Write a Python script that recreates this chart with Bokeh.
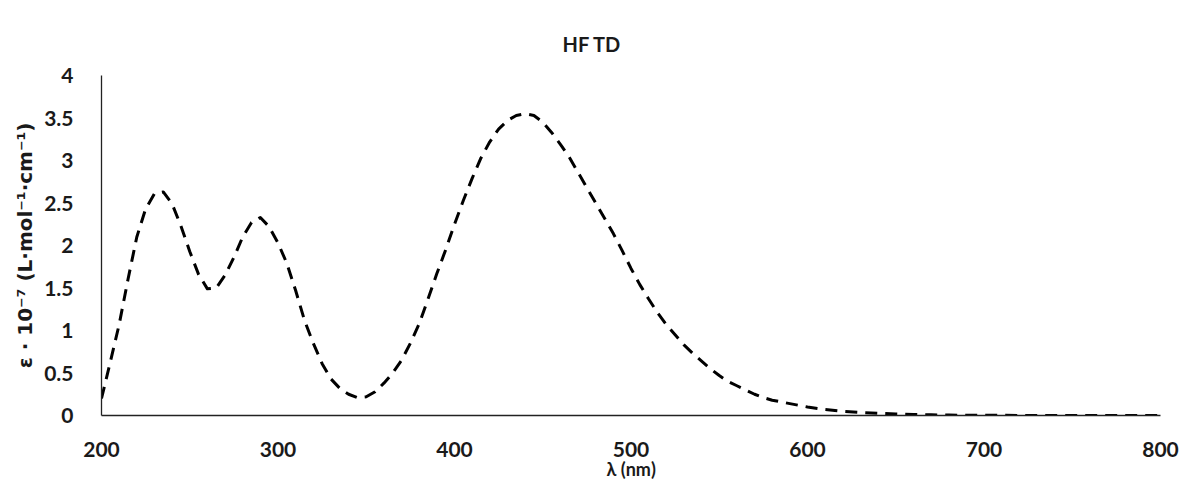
from bokeh.plotting import figure
from bokeh.models import Range1d, FixedTicker
from bokeh.embed import file_html
from bokeh.resources import INLINE

# Simulated absorption spectrum (HF, TD), epsilon in units of 1e7 L/(mol*cm)
wavelength_nm = [
    200, 205, 210, 215, 220, 225, 230, 235, 240, 245, 250, 255, 260, 265,
    270, 275, 280, 285, 290, 295, 300, 305, 310, 315, 320, 325, 330, 335,
    340, 345, 350, 355, 360, 365, 370, 375, 380, 385, 390, 395, 400, 405,
    410, 415, 420, 425, 430, 435, 440, 445, 450, 455, 460, 465, 470, 475,
    480, 485, 490, 495, 500, 505, 510, 515, 520, 525, 530, 535, 540, 545,
    550, 555, 560, 565, 570, 575, 580, 585, 590, 600, 610, 620, 630, 640,
    650, 660, 670, 680, 700, 750, 800,
]
epsilon = [
    0.20, 0.63, 1.07, 1.60, 2.10, 2.43, 2.61, 2.63, 2.49, 2.23, 1.93, 1.66, 1.49, 1.50,
    1.65, 1.86, 2.10, 2.27, 2.33, 2.22, 2.03, 1.79, 1.47, 1.12, 0.85, 0.61, 0.43, 0.32,
    0.25, 0.21, 0.22, 0.28, 0.38, 0.50, 0.65, 0.85, 1.08, 1.37, 1.67, 1.95, 2.25, 2.53,
    2.79, 3.03, 3.22, 3.37, 3.47, 3.53, 3.55, 3.53, 3.45, 3.33, 3.19, 3.04, 2.86, 2.68,
    2.50, 2.32, 2.14, 1.94, 1.73, 1.54, 1.37, 1.21, 1.07, 0.95, 0.83, 0.73, 0.64, 0.55,
    0.47, 0.40, 0.35, 0.30, 0.25, 0.21, 0.18, 0.16, 0.14, 0.10, 0.07, 0.05, 0.035, 0.025,
    0.018, 0.012, 0.008, 0.005, 0.002, 0.0, 0.0,
]

x_ticks = [200, 300, 400, 500, 600, 700, 800]
y_ticks = [0, 0.5, 1, 1.5, 2, 2.5, 3, 3.5, 4]
y_tick_labels = ["0", "0.5", "1", "1.5", "2", "2.5", "3", "3.5", "4"]

chart_title = "HF TD"
x_title = "λ (nm)"
y_title = "ε · 10⁻⁷ (L·mol⁻¹·cm⁻¹)"

FONT = "Lato"
INK = "#1a1a1a"

p = figure(
    width=1182, height=502,
    output_backend="svg", toolbar_location=None,
    x_range=Range1d(200, 800), y_range=Range1d(0, 4),
    min_border_left=101, min_border_right=22,
    min_border_top=75, min_border_bottom=87,
    title=chart_title,
)
p.outline_line_color = None
p.background_fill_color = "white"
p.border_fill_color = "white"
p.grid.visible = False

# Title centred over the whole chart rather than the frame
p.title.align = "left"
p.title.offset = 461
p.title.standoff = 40
p.title.text_font = FONT
p.title.text_font_style = "bold"
p.title.text_font_size = "20px"
p.title.text_color = INK

for ax in (p.xaxis[0], p.yaxis[0]):
    ax.major_tick_line_color = None
    ax.minor_tick_line_color = None
    ax.axis_line_color = "#222222"
    ax.axis_line_width = 1.3
    ax.major_label_text_font = FONT
    ax.major_label_text_font_style = "bold"
    ax.major_label_text_font_size = "21px"
    ax.major_label_text_color = INK
    ax.axis_label_text_font = FONT
    ax.axis_label_text_font_style = "bold"
    ax.axis_label_text_color = INK

p.xaxis.ticker = FixedTicker(ticks=x_ticks)
p.xaxis.major_label_standoff = 20
p.xaxis.axis_label = x_title
p.xaxis.axis_label_text_font_size = "18px"
p.xaxis.axis_label_standoff = -2

p.yaxis.ticker = FixedTicker(ticks=y_ticks)
p.yaxis.major_label_overrides = {t: s for t, s in zip(y_ticks, y_tick_labels)}
p.yaxis.major_label_standoff = 22
p.yaxis.axis_label = y_title
p.yaxis.axis_label_text_font = "DejaVu Sans"
p.yaxis.axis_label_text_font_size = "20px"
p.yaxis.axis_label_standoff = 4

p.line(wavelength_nm, epsilon, line_color="black", line_width=3,
       line_dash="12 8", line_cap="butt", line_join="round")

open("out.html", "w").write(file_html(p, INLINE))
